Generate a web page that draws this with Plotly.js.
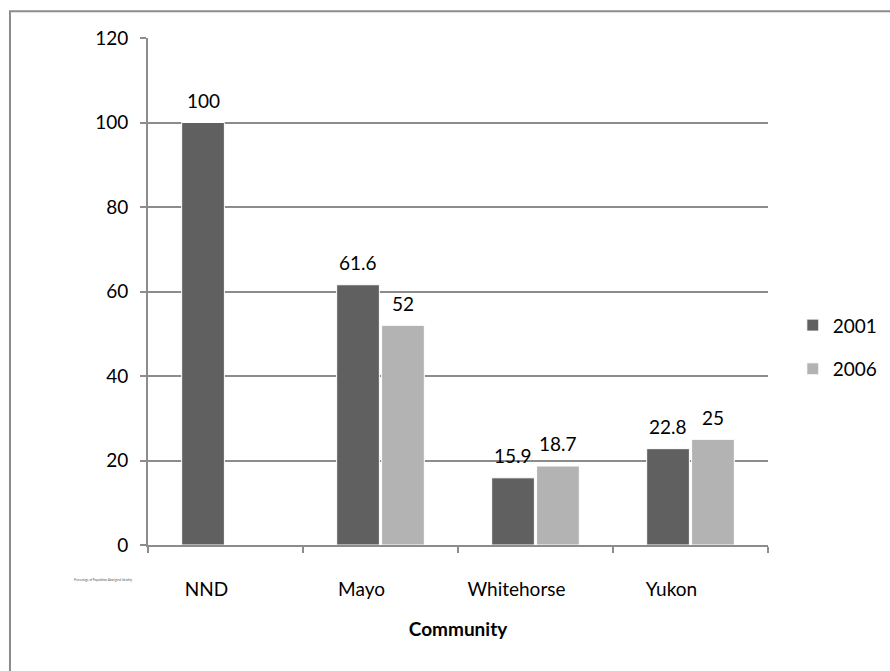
<!DOCTYPE html>
<html>
<head>
<meta charset="utf-8">
<script src="https://cdn.plot.ly/plotly-3.0.1.min.js"></script>
<style>
  html, body { margin: 0; padding: 0; background: #ffffff; }
  #chart { width: 890px; height: 671px; }
</style>
</head>
<body>
<div id="chart"></div>
<script>
// Share of population with Aboriginal identity, by community
const communities = ['NND', 'Mayo', 'Whitehorse', 'Yukon'];
const values2001 = [100, 61.6, 15.9, 22.8];
const values2006 = [null, 52, 18.7, 25];
const yTicks = [0, 20, 40, 60, 80, 100, 120];

const FONT = 'Lato, "Open Sans", sans-serif';
const GRID = '#8c8c8c';
const COLOR_2001 = '#606060';
const COLOR_2006 = '#b3b3b3';

// geometry of the grouped bars (fractions of a category slot)
const BARGAP = 0.42;
const BARGROUPGAP = 0.05;
const PLOT_W = 890 - 148 - 122;
const SLOT = PLOT_W / communities.length;
const HALF_OFFSET = SLOT * (1 - BARGAP) / 4;

function barTrace(name, values, color) {
  return {
    type: 'bar',
    name: name,
    legendgroup: name,
    x: communities,
    y: values,
    marker: { color: color, line: { color: '#ffffff', width: 1 } },
    hoverinfo: 'x+y'
  };
}

// value labels sit a little above each bar
function valueLabels(values, dx) {
  const out = [];
  values.forEach((v, i) => {
    if (v === null) return;
    out.push({
      x: communities[i], y: v,
      xref: 'x', yref: 'y',
      text: String(v),
      showarrow: false,
      xshift: dx, yshift: 22,
      xanchor: 'center', yanchor: 'middle',
      font: { family: FONT, size: 19, color: '#000000' }
    });
  });
  return out;
}

const traces = [
  barTrace('2001', values2001, COLOR_2001),
  barTrace('2006', values2006, COLOR_2006)
];

const layout = {
  width: 890,
  height: 671,
  margin: { l: 148, r: 122, t: 38, b: 126, autoexpand: false },
  paper_bgcolor: '#ffffff',
  plot_bgcolor: '#ffffff',
  font: { family: FONT, size: 19, color: '#000000' },
  barmode: 'group',
  bargap: BARGAP,
  bargroupgap: BARGROUPGAP,
  showlegend: true,
  legend: {
    x: 1.04, xanchor: 'left',
    y: 0.39, yanchor: 'middle',
    font: { family: FONT, size: 19, color: '#000000' },
    traceorder: 'grouped',
    tracegroupgap: 16,
    bgcolor: 'rgba(0,0,0,0)'
  },
  xaxis: {
    type: 'category',
    showgrid: false,
    showline: true,
    linecolor: GRID,
    linewidth: 2,
    ticks: 'outside',
    tickson: 'boundaries',
    ticklen: 6,
    tickwidth: 2,
    tickcolor: GRID,
    ticklabelstandoff: 26,
    ticklabelshift: -19,
    tickfont: { family: FONT, size: 19, color: '#000000' },
    title: {
      text: '<b>Community</b>',
      font: { family: FONT, size: 19, color: '#000000' },
      standoff: 24
    },
    fixedrange: true
  },
  yaxis: {
    range: [0, 120],
    tickvals: yTicks,
    ticktext: yTicks.map(String),
    showgrid: true,
    gridcolor: GRID,
    gridwidth: 2,
    showline: true,
    linecolor: GRID,
    linewidth: 2,
    ticks: 'outside',
    ticklen: 6,
    tickwidth: 2,
    tickcolor: GRID,
    ticklabelstandoff: 8,
    tickfont: { family: FONT, size: 19, color: '#000000' },
    zeroline: false,
    fixedrange: true
  },
  annotations: [
    ...valueLabels(values2001, -HALF_OFFSET),
    ...valueLabels(values2006, HALF_OFFSET),
    {
      text: 'Percentage of Population Aboriginal Identity',
      xref: 'paper', yref: 'paper',
      x: -0.073, y: -0.07,
      xanchor: 'center', yanchor: 'middle',
      showarrow: false,
      font: { family: FONT, size: 3, color: '#555555' }
    }
  ],
  shapes: [
    {
      type: 'rect',
      xref: 'paper', yref: 'paper',
      x0: -0.2226, x1: 1.5,
      y0: -0.5, y1: 1.053,
      line: { color: '#8c8c8c', width: 2 },
      fillcolor: 'rgba(0,0,0,0)',
      layer: 'below'
    }
  ]
};

Plotly.newPlot('chart', traces, layout, { displayModeBar: false, staticPlot: true });
</script>
</body>
</html>
